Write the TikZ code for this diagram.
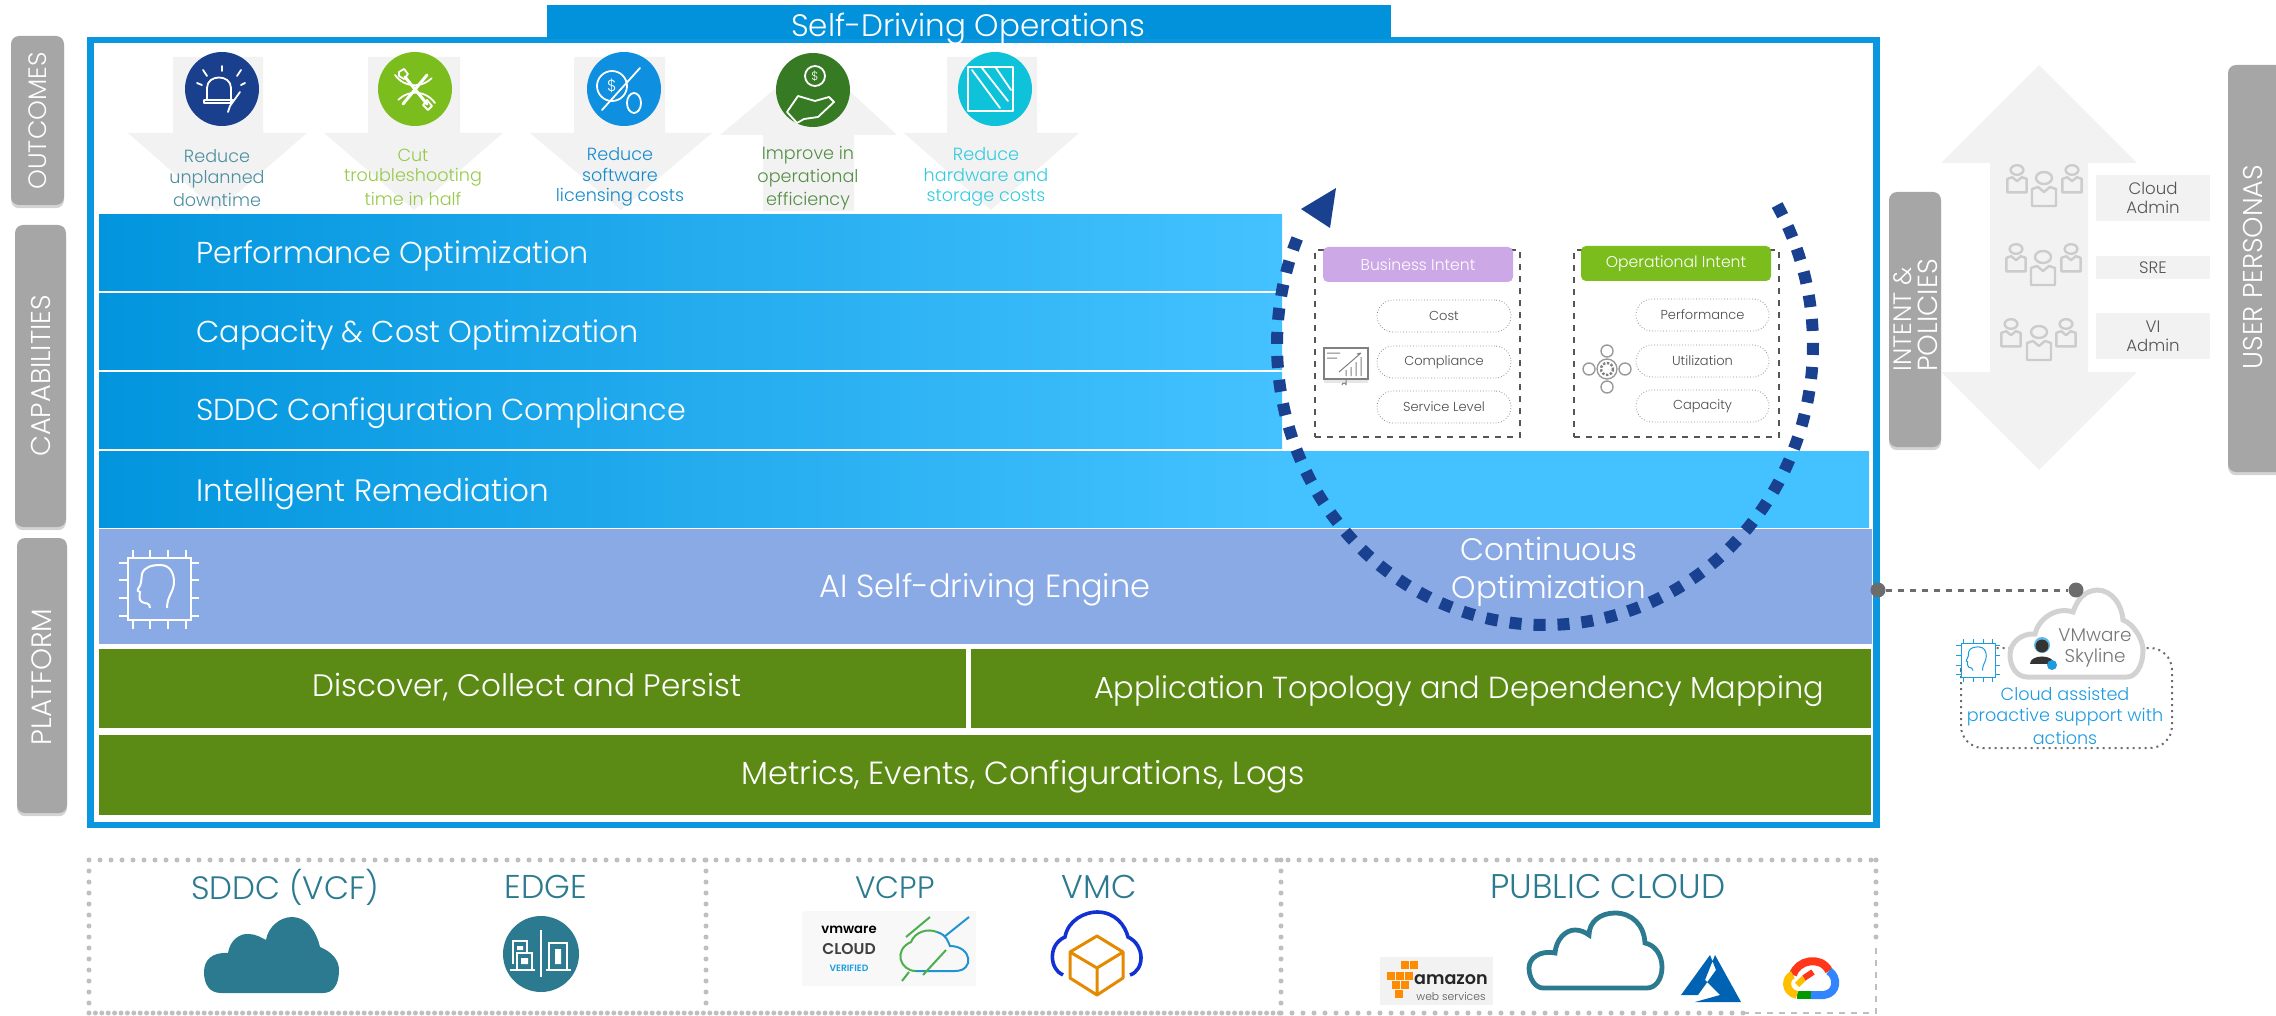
\documentclass[tikz,border=0pt]{standalone}
\usepackage{fontspec}
\setmainfont{Poppins}[UprightFont=* Light,BoldFont=* SemiBold]
\usetikzlibrary{shadows,calc}
\definecolor{barblue}{HTML}{0291DB}
\definecolor{frameblue}{HTML}{0B97E0}
\definecolor{bluelight}{HTML}{44C2FF}
\definecolor{bluedark}{HTML}{0295DD}
\definecolor{aiblue}{HTML}{8AAAE6}
\definecolor{leaf}{HTML}{5B8B14}
\definecolor{sidegray}{HTML}{A6A6A6}
\definecolor{pale}{HTML}{F2F2F2}
\definecolor{ringblue}{HTML}{1A4190}
\definecolor{teal}{HTML}{2C7A8F}
\definecolor{skyblue}{HTML}{1D9BE0}
\definecolor{ink}{HTML}{555555}
\definecolor{cNavy}{HTML}{1A3F8C}
\definecolor{cLime}{HTML}{7BBD1C}
\definecolor{cBlue}{HTML}{0E8FDF}
\definecolor{cForest}{HTML}{377A24}
\definecolor{cCyan}{HTML}{0DC2D9}
\definecolor{lilac}{HTML}{CDA8E6}
\pgfdeclarehorizontalshading{rowone}{100bp}{color(0bp)=(bluedark); color(25bp)=(bluedark); color(75bp)=(bluelight); color(100bp)=(bluelight)}
\pgfdeclarehorizontalshading{rowfour}{100bp}{color(0bp)=(bluedark); color(25bp)=(bluedark); color(58.4bp)=(bluelight); color(100bp)=(bluelight)}
\newcommand{\fs}[1]{\fontsize{#1}{#1}\selectfont}
\newcommand{\rn}[7][]{%
  \pgfmathsetmacro\rncx{(#3+#5)/2}\pgfmathsetmacro\rncy{(#4+#6)/2}%
  \pgfmathsetmacro\rnw{(#5-#3)/2}\pgfmathsetmacro\rnh{(#6-#4)/2}%
  \node[inner sep=0pt,outer sep=0pt,minimum width=\rnw pt,minimum height=\rnh pt,#1] (#2) at (\rncx,\rncy) {#7};}
\tikzset{
  bandtext/.style={text=white,font=\fs{15.1},anchor=west,inner sep=0pt},
  centertext/.style={text=white,font=\fs{15.8},align=center,inner sep=0pt},
  sidebox/.style={fill=sidegray,rounded corners=4pt,drop shadow={opacity=.35,shadow xshift=0pt,shadow yshift=-1.6pt}},
  sidetext/.style={text=white,rotate=90,font=\fs{13},inner sep=0pt},
  outtext/.style={font=\fs{8.8},align=center,inner sep=0pt},
  outdisc/.style={circle,minimum size=37pt,inner sep=0pt},
  pill/.style={draw=gray!90,densely dotted,line width=.4pt,rounded corners=8pt,fill=white,font=\fs{6.5},text=ink!90!black},
  intentbox/.style={draw=ink,dashed,line width=.6pt},
  intenthead/.style={rounded corners=2.5pt,text=white,font=\fs{7.8}},
  personabox/.style={fill=pale,text=ink,font=\fs{8.3},align=center},
  ic/.style={draw=white,line width=.9pt,line cap=round,line join=round},
  cloudlabel/.style={text=teal,font=\fs{16.5},inner sep=0pt},
  ptline/.style={line width=1.2pt,draw=gray!40,line join=round},
  dotline/.style={draw=gray!50,line width=2.5pt,line cap=round,dash pattern=on 0pt off 5.5pt},
  prs/.pic={
    \draw[ptline] (0,-10) ellipse [x radius=8,y radius=6];
    \draw[ptline] (-12,18)--(-12,1)--(-6,-1)--(0,4)--(6,-1)--(12,1)--(12,18)--cycle;
  },
  chip/.pic={
    \draw[pic actions] (0,0) rectangle (63,62);
    \foreach \t in {5,22,40,58}{
      \draw[pic actions] (\t,0)--(\t,-8) (\t,62)--(\t,71);
      \draw[pic actions] (0,\t)--(-9,\t) (63,\t)--(71,\t);}
    \draw[pic actions,fill=none] (22,50) .. controls (22,44) and (17,46) .. (14,44)
      .. controls (10,42) and (12,36) .. (12,34) .. controls (10,33) and (9,33) .. (10,31)
      .. controls (14,26) and (13,22) .. (14,16) .. controls (16,9) and (24,7) .. (32,7)
      .. controls (42,7) and (46,15) .. (46,24) .. controls (46,34) and (39,38) .. (39,50);
  }
}
\begin{document}
\begin{tikzpicture}[x=0.5pt,y=-0.5pt]
\useasboundingbox (0,0) rectangle (2276,1016);
% main frame
\rn[draw=frameblue,line width=3.2pt]{frame}{90.5}{40}{1876.5}{825}{}
\rn[fill=barblue]{title}{547}{5}{1391}{39}{}
\node[text=white,font=\fs{15.5},inner sep=0pt] (titleT) at (968,29) {Self-Driving Operations};
% bands
\rn[shading=rowone]{perf}{99}{215}{1282}{291}{}
\rn[shading=rowone]{cap}{99}{294}{1282}{369}{}
\rn[shading=rowone]{sddc}{99}{372}{1282}{448}{}
\rn[shading=rowfour]{remed}{99}{451}{1869}{527}{}
\rn[fill=aiblue]{engine}{99}{529}{1872}{644}{}
\rn[fill=leaf]{discover}{99}{649}{966}{728}{}
\rn[fill=leaf]{topology}{971}{649}{1871}{728}{}
\rn[fill=leaf]{metrics}{99}{735}{1871}{815}{}
\node[bandtext] (perfT) at (196,255.5) {Performance Optimization};
\node[bandtext] (capT) at (196,335.5) {Capacity \& Cost Optimization};
\node[bandtext] (sddcT) at (196,413.5) {SDDC Configuration Compliance};
\node[bandtext,font=\fs{15.5}] (remedT) at (196,494) {Intelligent Remediation};
\node[centertext,font=\fs{16}] (engineT) at (985,590) {AI Self-driving Engine};
\node[centertext,font=\fs{15.5}] (discoverT) at (527,687) {Discover, Collect and Persist};
\node[centertext,font=\fs{15.2}] (topologyT) at (1459,691) {Application Topology and Dependency Mapping};
\node[centertext,font=\fs{16}] (metricsT) at (1023,777) {Metrics, Events, Configurations, Logs};
\pic[draw=white,line width=1pt] at (128,558) {chip};
% side labels
\rn[sidebox]{outBox}{11}{36}{64}{205}{}
\rn[sidebox]{capBox}{15}{225}{66}{527}{}
\rn[sidebox]{platBox}{17}{538}{67}{813}{}
\rn[sidebox]{intentSide}{1889}{192}{1941}{447}{}
\rn[sidebox]{userBox}{2228}{65}{2290}{472}{}
\node[sidetext,font=\fs{12.6}] (outT) at (38,121) {OUTCOMES};
\node[sidetext,font=\fs{13.6}] (capT2) at (41,376) {CAPABILITIES};
\node[sidetext,font=\fs{14}] (platT) at (42,677) {PLATFORM};
\node[sidetext,font=\fs{12.6},anchor=west] (i1) at (1903,372) {INTENT \&};
\node[sidetext,font=\fs{13.8},anchor=west] (i2) at (1928,372) {POLICIES};
\node[sidetext,font=\fs{13.6}] (userT) at (2253,267) {USER PERSONAS};
% outcome arrows
\fill[pale] (173,57)--(263,57)--(263,133)--(307,133)--(217,211)--(128,133)--(173,133)--cycle;
\fill[pale] (368,57)--(460,57)--(460,133)--(503,133)--(414,210)--(324,133)--(368,133)--cycle;
\fill[pale] (574,57)--(665,57)--(665,133)--(712,133)--(621,210)--(530,133)--(574,133)--cycle;
\fill[pale] (763,211)--(854,211)--(854,135)--(897,135)--(813,57)--(720,135)--(763,135)--cycle;
\fill[pale] (947,57)--(1037,57)--(1037,133)--(1079,133)--(991,210)--(904,133)--(947,133)--cycle;
\node[outdisc,fill=cNavy] (c1) at (222,89) {};
\node[outdisc,fill=cLime] (c2) at (415,89) {};
\node[outdisc,fill=cBlue] (c3) at (624,89) {};
\node[outdisc,fill=cForest] (c4) at (813,90) {};
\node[outdisc,fill=cCyan] (c5) at (995,89) {};
\node[outtext,text=teal!85] (o1) at (217,178) {Reduce\\[1.6pt]unplanned\\[1.6pt]downtime};
\node[outtext,text=cLime!80] (o2) at (413,177) {Cut\\[1.6pt]troubleshooting\\[1.6pt]time in half};
\node[outtext,text=cBlue!75!teal] (o3) at (620,177) {Reduce\\[1.6pt]software\\[1.6pt]licensing costs};
\node[outtext,text=cForest!85] (o4) at (808,178) {Improve in\\[1.6pt]operational\\[1.6pt]efficiency};
\node[outtext,text=cCyan!85] (o5) at (986,177) {Reduce\\[1.6pt]hardware and\\[1.6pt]storage costs};
% bell
\draw[ic] (207,100)--(207,88) .. controls (207,74) and (231,74) .. (231,88)--(231,103)--(204,103)--(204,100)--(233,100);
\draw[ic] (222,66)--(222,71) (203,70)--(207,76) (241,70)--(237,76) (197,83)--(202,85) (245,83)--(241,85);
\draw[ic] (240,92)--(230,106)--(228,112);
% tools
\draw[ic] (395,75) arc [start angle=145,end angle=45,radius=24];
\draw[ic] (435,103) arc [start angle=-35,end angle=-135,radius=24];
\draw[ic,line width=1.5pt] (405,77)--(427,104) (427,75)--(403,104);
\draw[ic] (399,72)--(404,69)--(408,74)--(404,79)--(399,76)--cycle (427,100)--(432,106)--(428,110)--(423,105)--cycle;
% dollar crossed
\draw[ic] (612,86) circle [radius=15];
\draw[ic] (640,68)--(602,110);
\draw[ic] (634,103) ellipse [x radius=7,y radius=10];
\node[text=white,font=\fs{8},inner sep=0pt] (dollarA) at (612,86) {\$};
% hand and coin
\draw[ic] (815,76) circle [radius=10];
\node[text=white,font=\fs{6},inner sep=0pt] (dollarB) at (815,76) {\$};
\draw[ic] (787,112)--(798,96)--(815,101)--(829,97)--(834,102)--(818,117)--(804,119)--(797,123)--cycle;
% storage
\draw[ic] (968,67) rectangle (1013,111);
\draw[ic] (972,70)--(1000,108) (982,68)--(1008,101) (996,68)--(1011,90);
% intent panels
\rn[intentbox]{bizBox}{1315}{250}{1520}{437}{}
\rn[intenthead,fill=lilac]{bizHead}{1323}{247}{1513}{282}{Business Intent}
\rn[pill]{cost}{1377}{300}{1511}{332}{Cost}
\rn[pill]{compl}{1377}{346}{1511}{378}{Compliance}
\rn[pill]{svc}{1377}{391}{1511}{423}{Service Level}
\rn[intentbox]{opBox}{1574}{250}{1779}{437}{}
\rn[intenthead,fill=cLime]{opHead}{1581}{246}{1771}{281}{Operational Intent}
\rn[pill]{perfP}{1636}{299}{1769}{331}{Performance}
\rn[pill]{util}{1636}{345}{1769}{377}{Utilization}
\rn[pill]{capP}{1636}{390}{1769}{422}{Capacity}
% continuous loop
\draw[ringblue,line width=6pt,dash pattern=on 6pt off 6pt] plot[domain=30:-203,samples=120,smooth] ({1545+268*cos(\x)},{345-280*sin(\x)});
\coordinate (hA) at (1336,188);
\coordinate (hB) at (1301,209);
\coordinate (hC) at (1330,228);
\fill[ringblue] (hA)--(hB)--(hC)--cycle;
\node[centertext,font=\fs{15.5}] (ringT) at (1549,572) {Continuous\\[3.5pt]Optimization};
% chart icon
\draw[gray,line width=.7pt,fill=white,drop shadow={opacity=.2,shadow xshift=0pt,shadow yshift=-2pt}] (1324,348) rectangle (1368,379);
\draw[gray,line width=.5pt] (1327,353)--(1340,353) (1327,358)--(1337,358) (1339,372)--(1361,353) (1361,353)--(1357,354) (1346,376)--(1346,370) (1351,376)--(1351,367) (1356,376)--(1356,362) (1361,376)--(1361,357) (1346,379)--(1346,385) (1346,385) arc [start angle=0,end angle=-180,radius=2];
% gear icon
\draw[gray!80,line width=.7pt] (1607,369) circle [radius=10] (1607,351) circle [radius=6] (1607,387) circle [radius=6] (1589,369) circle [radius=6] (1625,369) circle [radius=6];
\draw[gray,line width=1.2pt,dash pattern=on 1.2pt off .8pt] (1607,369) circle [radius=6];
% persona arrow
\fill[pale] (2039,65)--(2137,163)--(2088,163)--(2088,372)--(2137,372)--(2039,470)--(1941,372)--(1990,372)--(1990,163)--(1941,163)--cycle;
\pic[scale=.8] at (2017,178) {prs};
\pic[scale=.8] at (2072,178) {prs};
\pic at (2044,188) {prs};
\pic[scale=.8] at (2016,257) {prs};
\pic[scale=.8] at (2071,257) {prs};
\pic at (2043,267) {prs};
\pic[scale=.8] at (2011,332) {prs};
\pic[scale=.8] at (2066,332) {prs};
\pic at (2039,342) {prs};
\rn[personabox]{cloudAdmin}{2096}{175}{2210}{221}{Cloud\\[1pt]Admin}
\rn[personabox]{sre}{2096}{256}{2210}{279}{SRE}
\rn[personabox]{viAdmin}{2096}{313}{2210}{359}{VI\\[1pt]Admin}
% skyline
\draw[draw=gray!85!black,dotted,line width=1pt,rounded corners=11pt] (1961,648) rectangle (2172,748);
\draw[draw=gray!35,line width=2.5pt,fill=white] (2027,677) .. controls (2017,677) and (2010,667) .. (2010,655)
 .. controls (2010,642) and (2022,633) .. (2035,634)
 .. controls (2038,620) and (2055,606) .. (2073,612)
 .. controls (2078,598) and (2085,591) .. (2097,590)
 .. controls (2112,590) and (2122,605) .. (2123,620)
 .. controls (2134,624) and (2143,640) .. (2143,650)
 .. controls (2143,667) and (2135,677) .. (2127,677) -- cycle;
\node[circle,fill=skyblue!70,inner sep=0pt,minimum size=8pt] (halo) at (2042,645) {};
\node[circle,fill=ink!60!black,inner sep=0pt,minimum size=6.5pt] (headS) at (2042,646) {};
\fill[ink!60!black] (2030,664) .. controls (2030,654) and (2054,654) .. (2054,664) -- cycle;
\node[circle,fill=skyblue,inner sep=0pt,minimum size=5pt] (badge) at (2052,665) {};
\node[text=ink!80,font=\fs{9.2},align=center,inner sep=0pt] (skyT) at (2095,648) {VMware\\[1.5pt]Skyline};
\pic[draw=skyblue,fill=white,line width=.5pt,scale=.55] at (1961,643) {chip};
\node[text=skyblue,font=\fs{8.8},align=center,inner sep=0pt] (skyNote) at (2065,716) {Cloud assisted\\[2pt]proactive support with\\[1.6pt]actions};
\node[circle,fill=gray!85!black,inner sep=0pt,minimum size=7.5pt] (dotA) at (1878,590) {};
\node[circle,fill=gray!85!black,inner sep=0pt,minimum size=7.5pt] (dotB) at (2076,590) {};
\draw[gray!85!black,line width=1.5pt,dashed] (dotA) -- (dotB);
% bottom strip
\draw[dotline] (89,860)--(1876,860) (89,860)--(89,1013) (706,860)--(706,1013) (1281,860)--(1281,1013) (1876,860)--(1876,942);
\draw[dotline,dash pattern=on 0pt off 3.2pt] (89,1013)--(1281,1013);
\draw[dotline] (1281,1013)--(1743,1013);
\draw[gray!50,line width=.6pt,dashed] (1743,1013)--(1876,1013)--(1876,942);
\node[cloudlabel,font=\fs{16.2}] (l1) at (285,887) {SDDC (VCF)};
\node[cloudlabel] (l2) at (546,887) {EDGE};
\node[cloudlabel,font=\fs{15.5}] (l3) at (895,888) {VCPP};
\node[cloudlabel] (l4) at (1099,887) {VMC};
\node[cloudlabel,font=\fs{17.1}] (l5) at (1608,887) {PUBLIC CLOUD};
\fill[teal] (221,993) .. controls (210,993) and (204,985) .. (204,972)
 .. controls (204,960) and (212,952) .. (228,953)
 .. controls (230,940) and (240,933) .. (249,934)
 .. controls (256,934) and (262,938) .. (266,940)
 .. controls (268,927) and (280,917) .. (292,917)
 .. controls (306,917) and (316,930) .. (320,947)
 .. controls (332,952) and (339,960) .. (339,970)
 .. controls (339,985) and (333,993) .. (323,993) -- cycle;
\node[circle,fill=teal,minimum size=38pt,inner sep=0pt] (edgeDisc) at (541,954) {};
\draw[white,line width=.8pt] (541,930)--(541,977);
\draw[white,line width=1pt] (513,964)--(513,941)--(527,941)--(527,953) (517,969)--(517,953)--(532,953)--(532,969) (549,969)--(549,943)--(567,943)--(567,969) (510,970)--(535,970) (546,970)--(571,970);
\fill[white] (517,946) rectangle (523,950) (521,958) rectangle (528,964) (555,949) rectangle (561,964);
% vcpp
\rn[fill=pale!50]{vcppBg}{802}{911}{976}{986}{}
\node[inner sep=0pt,font=\bfseries\fs{6.6}] (vc1) at (849,930) {vmware};
\node[inner sep=0pt,font=\bfseries\fs{7.8},text=black!75] (vc2) at (849,949) {CLOUD};
\node[inner sep=0pt,font=\bfseries\fs{4.6},text=skyblue] (vc3) at (849,968) {VERIFIED};
\draw[green!55!black!70!white,line width=1pt] (916,971) .. controls (900,971) and (893,950) .. (911,942) .. controls (915,932) and (927,928) .. (937,932);
\draw[skyblue!80!teal,line width=1pt] (937,932) .. controls (947,935) and (948,942) .. (950,946) .. controls (972,946) and (975,971) .. (955,971) -- (916,971);
\draw[green!55!black!70!white,line width=1pt] (930,917)--(906,937) (946,950)--(923,975) (902,981)--(909,972);
\draw[skyblue!80!teal,line width=1pt] (969,917)--(944,937);
% vmc
\draw[blue!60!teal,line width=1.8pt] (1063,975) .. controls (1050,970) and (1047,945) .. (1065,937) .. controls (1068,920) and (1085,912) .. (1097,912) .. controls (1115,912) and (1125,925) .. (1128,937) .. controls (1145,945) and (1145,970) .. (1130,975);
\draw[orange!80!yellow!90!black,line width=1.5pt,line join=round] (1097,936)--(1123,952)--(1123,978)--(1097,995)--(1070,978)--(1070,952)--cycle (1070,952)--(1097,968)--(1123,952) (1097,968)--(1097,995);
% public cloud
\draw[teal,line width=2.4pt] (1543,988) .. controls (1535,988) and (1529,978) .. (1529,968)
 .. controls (1529,958) and (1540,950) .. (1555,953)
 .. controls (1556,940) and (1565,930) .. (1575,930)
 .. controls (1580,930) and (1585,932) .. (1589,935)
 .. controls (1589,922) and (1600,913) .. (1615,913)
 .. controls (1632,913) and (1644,925) .. (1645,943)
 .. controls (1655,945) and (1662,955) .. (1662,967)
 .. controls (1662,980) and (1655,988) .. (1647,988) -- cycle;
% aws
\rn[fill=pale]{awsBg}{1380}{957}{1493}{1005}{}
\node[inner sep=0pt,font=\bfseries\fs{8.8},text=black!85] (aw1) at (1451,980) {amazon};
\node[inner sep=0pt,font=\fs{5.4},text=ink] (aw2) at (1451,996) {web services};
\foreach \cx/\cy in {1405/965,1414/965,1391/976,1400/976,1409/976,1396/985,1405/985,1399/994}{\fill[orange!90!yellow] (\cx-4,\cy-4) rectangle (\cx+4,\cy+4);}
% azure
\fill[blue!45!cyan!70!black] (1710,955)--(1681,995)--(1698,995)--(1716,970)--cycle (1715,955)--(1741,1002)--(1695,1002)--(1720,995)--(1705,980)--cycle;
% google cloud
\begin{scope}[line width=4pt]
\draw[red!75!orange!90] (1793,975) .. controls (1797,960) and (1821,955) .. (1829,971);
\draw[blue!60!cyan!80] (1829,971) .. controls (1838,977) and (1838,993) .. (1824,995)--(1811,995);
\draw[green!60!black] (1811,995)--(1797,995);
\draw[orange!50!yellow] (1797,995) .. controls (1784,992) and (1785,977) .. (1793,975);
\end{scope}
\draw[line width=3pt,orange!50!yellow] (1797,985)--(1804,978);
\draw[line width=3pt,red!75!orange!90] (1804,978)--(1813,972);
\end{tikzpicture}
\end{document}
